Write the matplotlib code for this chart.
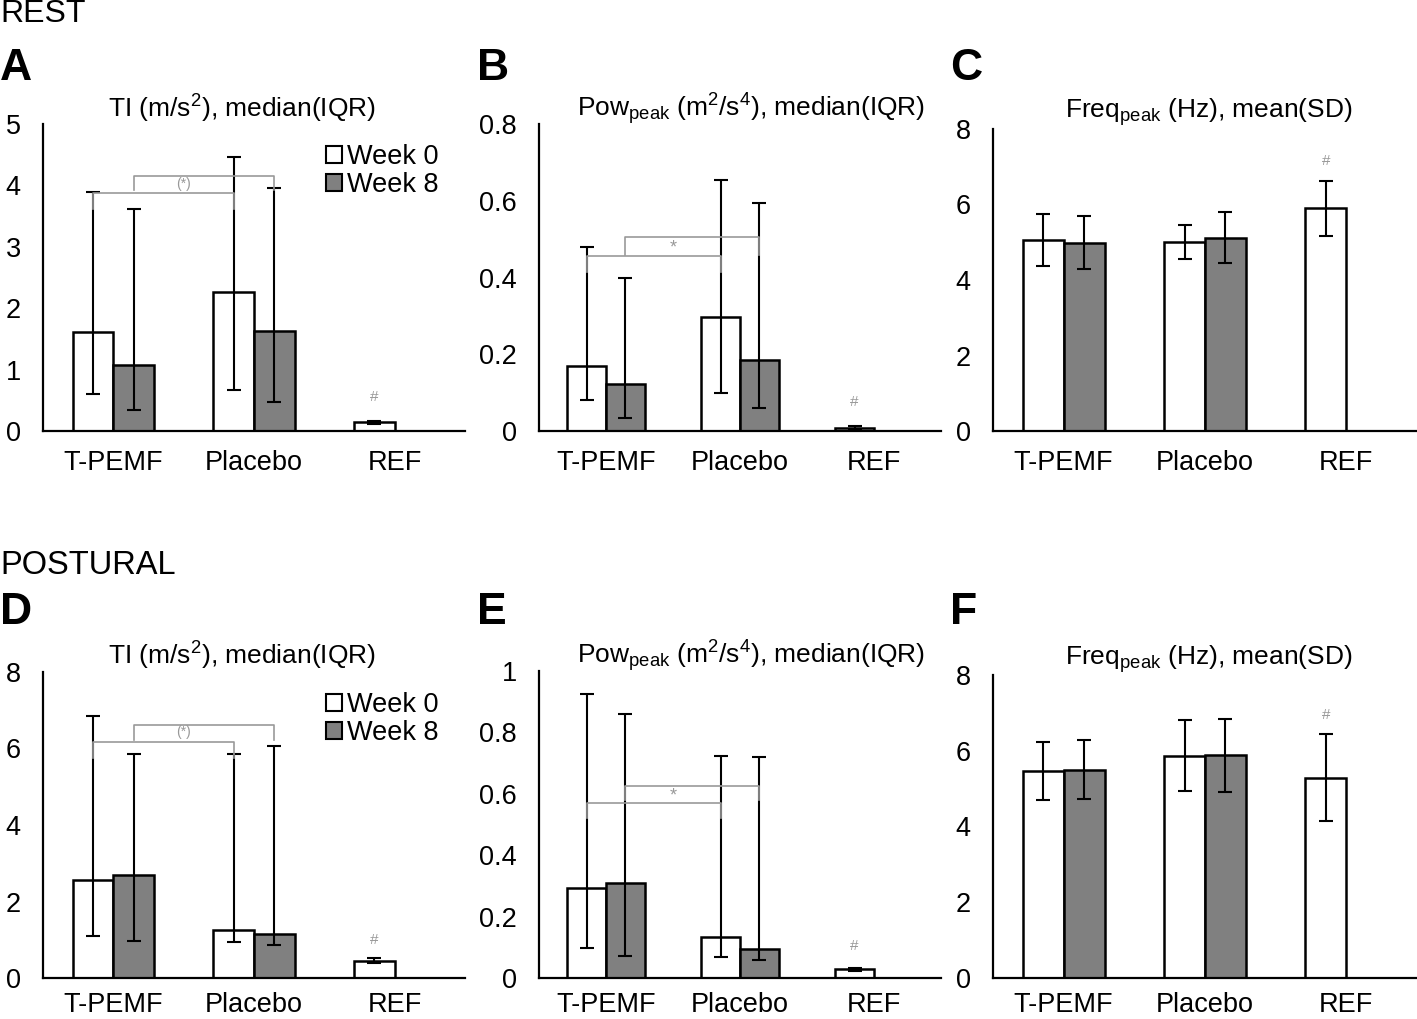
import numpy as np
import matplotlib
matplotlib.use('Agg')
import matplotlib.pyplot as plt
from matplotlib.patches import Patch

plt.rcParams['font.family'] = ['Liberation Sans', 'DejaVu Sans']
plt.rcParams['mathtext.fontset'] = 'custom'
plt.rcParams['mathtext.rm'] = 'Liberation Sans'
plt.rcParams['mathtext.it'] = 'Liberation Sans:italic'

categories = ['T-PEMF', 'Placebo', 'REF']

# REST - TI, median (IQR)
rest_ti_w0 = [1.62, 2.26, 0.14]
rest_ti_w0_q1 = [0.60, 0.66, 0.12]
rest_ti_w0_q3 = [3.89, 4.46, 0.16]
rest_ti_w8 = [1.08, 1.63]
rest_ti_w8_q1 = [0.35, 0.47]
rest_ti_w8_q3 = [3.62, 3.95]

# REST - Pow peak, median (IQR)
rest_pow_w0 = [0.169, 0.298, 0.009]
rest_pow_w0_q1 = [0.081, 0.100, 0.006]
rest_pow_w0_q3 = [0.480, 0.654, 0.012]
rest_pow_w8 = [0.122, 0.185]
rest_pow_w8_q1 = [0.035, 0.059]
rest_pow_w8_q3 = [0.400, 0.595]

# REST - Freq peak, mean (SD)
rest_freq_w0 = [5.06, 5.01, 5.90]
rest_freq_w0_sd = [0.69, 0.45, 0.73]
rest_freq_w8 = [4.99, 5.12]
rest_freq_w8_sd = [0.70, 0.68]

# POSTURAL - TI
post_ti_w0 = [2.57, 1.25, 0.44]
post_ti_w0_q1 = [1.10, 0.95, 0.38]
post_ti_w0_q3 = [6.85, 5.86, 0.51]
post_ti_w8 = [2.70, 1.16]
post_ti_w8_q1 = [0.98, 0.85]
post_ti_w8_q3 = [5.85, 6.07]

# POSTURAL - Pow peak
post_pow_w0 = [0.294, 0.133, 0.029]
post_pow_w0_q1 = [0.099, 0.070, 0.024]
post_pow_w0_q3 = [0.926, 0.724, 0.034]
post_pow_w8 = [0.311, 0.095]
post_pow_w8_q1 = [0.072, 0.059]
post_pow_w8_q3 = [0.861, 0.719]

# POSTURAL - Freq peak
post_freq_w0 = [5.47, 5.87, 5.29]
post_freq_w0_sd = [0.77, 0.945, 1.155]
post_freq_w8 = [5.50, 5.88]
post_freq_w8_sd = [0.78, 0.97]

W, H = 1417, 1019
fig = plt.figure(figsize=(W / 100, H / 100), dpi=100)

def add_ax(x0, y0, x1, y1):
    return fig.add_axes([x0 / W, 1 - y1 / H, (x1 - x0) / W, (y1 - y0) / H])

bw = 0.29
GREY = '#999999'
FS = 19.5

def draw_panel(ax, w0, w8, w0_lo, w0_hi, w8_lo, w8_hi, ymax, ystep, fmt, xpad=13.5):
    x = np.arange(len(categories))
    x0 = x - bw / 2
    x8 = x[:len(w8)] + bw / 2
    ax.bar(x0, w0, bw, color='white', edgecolor='black', linewidth=1.8, zorder=2)
    ax.bar(x8, w8, bw, color='#808080', edgecolor='black', linewidth=1.8, zorder=2)
    ax.errorbar(x0, w0, yerr=[w0_lo, w0_hi], fmt='none', ecolor='black',
                elinewidth=1.5, capsize=5, capthick=1.5, zorder=3)
    ax.errorbar(x8, w8, yerr=[w8_lo, w8_hi], fmt='none', ecolor='black',
                elinewidth=1.5, capsize=5, capthick=1.5, zorder=3)
    ax.set_xlim(-0.5, 2.5)
    ax.set_ylim(0, ymax)
    ticks = np.arange(0, ymax + ystep / 2, ystep)
    ax.set_yticks(ticks)
    ax.set_yticklabels([fmt(t) for t in ticks])
    ax.set_xticks(x)
    ax.set_xticklabels(categories)
    for s in ['top', 'right']:
        ax.spines[s].set_visible(False)
    for s in ['left', 'bottom']:
        ax.spines[s].set_linewidth(1.6)
    ax.tick_params(axis='x', length=0, pad=xpad, labelsize=FS)
    ax.tick_params(axis='y', length=0, pad=16, labelsize=FS)
    return x0, x8

def iqr(med, q1, q3):
    med = np.array(med)
    return med - np.array(q1), np.array(q3) - med

def bracket(ax, xa, xb, h, d):
    ax.plot([xa, xa, xb, xb], [d, h, h, d], color=GREY, lw=1.2, zorder=4)

def fmt_int(t):
    return '%d' % round(t)

def fmt_dec(t):
    return '0' if abs(t) < 1e-9 else ('%g' % round(t, 1))

def add_legend(ax):
    handles = [Patch(facecolor='white', edgecolor='black', linewidth=1.5, label='Week 0'),
               Patch(facecolor='#808080', edgecolor='black', linewidth=1.5, label='Week 8')]
    ax.legend(handles=handles, loc='upper left', bbox_to_anchor=(0.67, 0.935), frameon=False,
              fontsize=FS, handlelength=0.6, handleheight=0.6, handletextpad=0.2,
              labelspacing=0.08, borderpad=0, borderaxespad=0)

# ---------- A
ax = add_ax(43, 124, 465, 431)
lo0, hi0 = iqr(rest_ti_w0, rest_ti_w0_q1, rest_ti_w0_q3)
lo8, hi8 = iqr(rest_ti_w8, rest_ti_w8_q1, rest_ti_w8_q3)
x0, x8 = draw_panel(ax, rest_ti_w0, rest_ti_w8, lo0, hi0, lo8, hi8, 5, 1, fmt_int)
bracket(ax, x0[0], x0[1], 3.88, 3.62)
bracket(ax, x8[0], x8[1], 4.15, 3.92)
ax.text((x0[1] + x8[0]) / 2, 4.03, '(*)', color=GREY, fontsize=10, ha='center', va='center')
ax.text(x0[2], 0.56, '#', color=GREY, fontsize=11, ha='center', va='center')
add_legend(ax)

# ---------- B
ax = add_ax(539, 124, 941, 431)
lo0, hi0 = iqr(rest_pow_w0, rest_pow_w0_q1, rest_pow_w0_q3)
lo8, hi8 = iqr(rest_pow_w8, rest_pow_w8_q1, rest_pow_w8_q3)
x0, x8 = draw_panel(ax, rest_pow_w0, rest_pow_w8, lo0, hi0, lo8, hi8, 0.8, 0.2, fmt_dec)
bracket(ax, x0[0], x0[1], 0.457, 0.415)
bracket(ax, x8[0], x8[1], 0.505, 0.458)
ax.text((x0[1] + x8[0]) / 2, 0.478, '*', color=GREY, fontsize=13, ha='center', va='center')
ax.text(x0[2], 0.076, '#', color=GREY, fontsize=11, ha='center', va='center')

# ---------- C
ax = add_ax(993, 129, 1417, 431)
x0, x8 = draw_panel(ax, rest_freq_w0, rest_freq_w8, rest_freq_w0_sd, rest_freq_w0_sd,
                    rest_freq_w8_sd, rest_freq_w8_sd, 8, 2, fmt_int)
ax.text(x0[2], 7.15, '#', color=GREY, fontsize=11, ha='center', va='center')

# ---------- D
ax = add_ax(43, 672, 465, 978)
lo0, hi0 = iqr(post_ti_w0, post_ti_w0_q1, post_ti_w0_q3)
lo8, hi8 = iqr(post_ti_w8, post_ti_w8_q1, post_ti_w8_q3)
x0, x8 = draw_panel(ax, post_ti_w0, post_ti_w8, lo0, hi0, lo8, hi8, 8, 2, fmt_int, xpad=10)
bracket(ax, x0[0], x0[1], 6.17, 5.76)
bracket(ax, x8[0], x8[1], 6.61, 6.21)
ax.text((x0[1] + x8[0]) / 2, 6.43, '(*)', color=GREY, fontsize=10, ha='center', va='center')
ax.text(x0[2], 1.0, '#', color=GREY, fontsize=11, ha='center', va='center')
add_legend(ax)

# ---------- E
ax = add_ax(539, 671, 941, 978)
lo0, hi0 = iqr(post_pow_w0, post_pow_w0_q1, post_pow_w0_q3)
lo8, hi8 = iqr(post_pow_w8, post_pow_w8_q1, post_pow_w8_q3)
x0, x8 = draw_panel(ax, post_pow_w0, post_pow_w8, lo0, hi0, lo8, hi8, 1.0, 0.2, fmt_dec, xpad=10)
bracket(ax, x0[0], x0[1], 0.569, 0.52)
bracket(ax, x8[0], x8[1], 0.626, 0.58)
ax.text((x0[1] + x8[0]) / 2, 0.594, '*', color=GREY, fontsize=13, ha='center', va='center')
ax.text(x0[2], 0.105, '#', color=GREY, fontsize=11, ha='center', va='center')

# ---------- F
ax = add_ax(993, 675, 1417, 978)
x0, x8 = draw_panel(ax, post_freq_w0, post_freq_w8, post_freq_w0_sd, post_freq_w0_sd,
                    post_freq_w8_sd, post_freq_w8_sd, 8, 2, fmt_int, xpad=10)
ax.text(x0[2], 6.95, '#', color=GREY, fontsize=11, ha='center', va='center')

# titles and labels
def ftext(xp, yp, s, **kw):
    fig.text(xp / W, 1 - yp / H, s, **kw)

ti_title = r'TI (m/s$^{2}$), median(IQR)'
pow_title = r'Pow$_{\mathrm{peak}}$ (m$^{2}$/s$^{4}$), median(IQR)'
freq_title = r'Freq$_{\mathrm{peak}}$ (Hz), mean(SD)'
for yoff in [0, 547]:
    ftext(242, 109 + yoff, ti_title, fontsize=19, ha='center', va='center')
    ftext(751, 109 + yoff, pow_title, fontsize=19, ha='center', va='center')
    ftext(1209, 112 + yoff, freq_title, fontsize=19, ha='center', va='center')

ftext(0, 14, 'REST', fontsize=23, ha='left', va='center')
ftext(0, 565, 'POSTURAL', fontsize=23.5, ha='left', va='center')
for lab, xp, yp in [('A', 0, 68), ('B', 477, 68), ('C', 950, 68),
                    ('D', 0, 613), ('E', 477, 613), ('F', 950, 613)]:
    ftext(xp, yp, lab, fontsize=32, fontweight='bold', ha='left', va='center')

fig.savefig('out.png', dpi=100)
